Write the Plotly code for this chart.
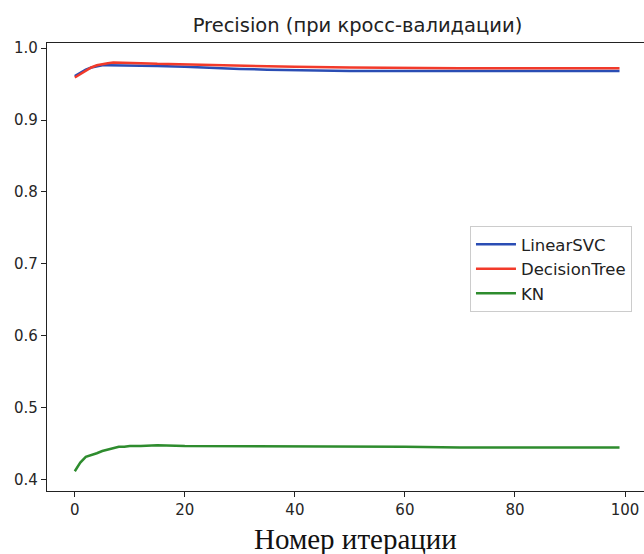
import plotly.graph_objects as go

iterations = [0, 1, 2, 3, 4, 5, 6, 7, 8, 9, 10, 12, 15, 20, 25, 30, 35, 40, 50, 60, 70, 80, 90, 99]

linear_svc = [0.961, 0.966, 0.970, 0.973, 0.975, 0.976, 0.976, 0.976, 0.976, 0.976, 0.976, 0.976,
              0.975, 0.974, 0.972, 0.971, 0.970, 0.969, 0.968, 0.968, 0.968, 0.968, 0.968, 0.968]
decision_tree = [0.959, 0.964, 0.969, 0.973, 0.976, 0.978, 0.979, 0.980, 0.980, 0.980, 0.980, 0.979,
                 0.978, 0.977, 0.976, 0.975, 0.975, 0.974, 0.973, 0.972, 0.972, 0.972, 0.972, 0.972]
kn = [0.412, 0.424, 0.432, 0.434, 0.437, 0.440, 0.442, 0.444, 0.446, 0.446, 0.447, 0.447,
      0.448, 0.447, 0.447, 0.447, 0.447, 0.447, 0.446, 0.446, 0.445, 0.445, 0.445, 0.445]

series_names = ["LinearSVC", "DecisionTree", "KN"]
series_colors = ["#2a4db4", "#f23a2a", "#2e8c2e"]

x_ticks = [0, 20, 40, 60, 80, 100]
y_ticks = [0.4, 0.5, 0.6, 0.7, 0.8, 0.9, 1.0]
y_tick_labels = ["0.4", "0.5", "0.6", "0.7", "0.8", "0.9", "1.0"]

fig = go.Figure()
for name, vals, col in zip(series_names, [linear_svc, decision_tree, kn], series_colors):
    fig.add_trace(go.Scatter(x=iterations, y=vals, mode="lines", name=name,
                             line=dict(color=col, width=2.5)))

axis_font = dict(family="DejaVu Sans", size=15, color="#262626")

fig.update_layout(
    width=644, height=554,
    margin=dict(l=47, r=0, t=43, b=63, autoexpand=False),
    plot_bgcolor="white", paper_bgcolor="white",
    showlegend=True,
    title=dict(text="Precision (при кросс-валидации)", x=0.52, xanchor="center",
               y=1 - 25 / 554, yanchor="middle", xref="paper",
               font=dict(family="DejaVu Sans", size=19.5, color="#222222")),
    xaxis=dict(range=[-5.05, 103.45], tickvals=x_ticks, ticks="outside", ticklen=5,
               tickcolor="#222", showline=True, linecolor="#222", linewidth=1.2, mirror=True,
               showgrid=False, zeroline=False, tickfont=axis_font, automargin=False),
    yaxis=dict(range=[0.3845, 1.007], tickvals=y_ticks, ticktext=y_tick_labels,
               ticks="outside", ticklen=5, tickcolor="#222", showline=True, linecolor="#222",
               linewidth=1.2, mirror=False, showgrid=False, zeroline=False, tickfont=axis_font,
               automargin=False),
    legend=dict(x=0.7085, y=0.5915, xanchor="left", yanchor="top", bgcolor="white",
                bordercolor="#cccccc", borderwidth=1, itemwidth=40,
                font=dict(family="DejaVu Sans", size=16.5, color="#222222")),
    annotations=[dict(text="Номер итерации", xref="paper", yref="paper", x=0.516, y=-(539 - 491) / 448,
                      xanchor="center", yanchor="middle", showarrow=False,
                      font=dict(family="Liberation Serif", size=29, color="#111111"))],
)

fig.write_html("out.html", config={"displayModeBar": False},
               post_script="document.body.style.margin='0';document.body.style.overflow='hidden';")
